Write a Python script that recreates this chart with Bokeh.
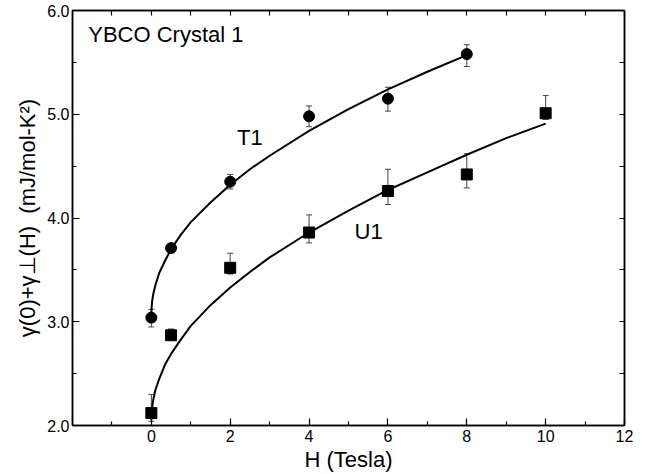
from bokeh.plotting import figure
from bokeh.models import (ColumnDataSource, Whisker, TeeHead, FixedTicker, LinearAxis,
                          Label, Range1d, NumeralTickFormatter)
from bokeh.embed import file_html
from bokeh.resources import INLINE

# ---- data ----
h_t1 = [0, 0.5, 2, 4, 6, 8]
g_t1 = [3.04, 3.71, 4.35, 4.98, 5.15, 5.58]
lo_t1 = [2.95, 3.68, 4.28, 4.88, 5.03, 5.46]
hi_t1 = [3.12, 3.74, 4.42, 5.08, 5.26, 5.67]

h_u1 = [0, 0.5, 2, 4, 6, 8, 10]
g_u1 = [2.12, 2.87, 3.52, 3.86, 4.26, 4.42, 5.01]
lo_u1 = [2.04, 2.83, 3.46, 3.76, 4.13, 4.29, 4.95]
hi_u1 = [2.30, 2.93, 3.66, 4.03, 4.47, 4.62, 5.18]

fit_h_t1 = [0, 0.005, 0.02, 0.05, 0.1, 0.2, 0.35, 0.5, 0.75, 1, 1.5, 2, 2.5, 3, 4, 5, 6, 7, 8]
fit_t1 = [3.07, 3.13, 3.20, 3.27, 3.35, 3.47, 3.59, 3.70, 3.84, 3.96, 4.15, 4.32, 4.47, 4.60,
          4.84, 5.05, 5.24, 5.41, 5.57]
fit_h_u1 = [0, 0.005, 0.02, 0.05, 0.1, 0.2, 0.35, 0.5, 0.75, 1, 1.5, 2, 2.5, 3, 4, 5, 6, 7, 8, 9, 10]
fit_u1 = [2.05, 2.11, 2.18, 2.25, 2.34, 2.45, 2.59, 2.69, 2.83, 2.96, 3.16, 3.33, 3.48, 3.62,
          3.86, 4.07, 4.27, 4.44, 4.61, 4.77, 4.91]

x_ticks = [0, 2, 4, 6, 8, 10, 12]
x_minor = [-1, 1, 3, 5, 7, 9, 11]
y_ticks = [2, 3, 4, 5, 6]
y_minor = [2.5, 3.5, 4.5, 5.5]

x_title = "H (Tesla)"
y_title = "γ(0)+γ⊥(H)\u00a0\u00a0(mJ/mol-K²)"
series_labels = ["T1", "U1"]
panel_title = "YBCO Crystal 1"

FONT = "Liberation Sans"

p = figure(width=652, height=474, x_range=Range1d(-2, 12), y_range=Range1d(2, 6),
           output_backend="svg", toolbar_location=None,
           min_border_left=72, min_border_right=28, min_border_top=10, min_border_bottom=49,
           x_axis_location=None, y_axis_location=None)
p.grid.visible = False
p.background_fill_color = "white"
p.border_fill_color = "white"
p.outline_line_color = "black"
p.outline_line_width = 1.5


def base_axis(ax):
    ax.axis_line_color = "black"
    ax.axis_line_width = 1.5
    ax.major_tick_in = 7
    ax.major_tick_out = 0
    ax.minor_tick_in = 4
    ax.minor_tick_out = 0
    ax.major_tick_line_width = 1.2
    ax.minor_tick_line_width = 1.2
    ax.major_tick_line_color = "black"
    ax.minor_tick_line_color = "black"
    ax.major_label_text_font = FONT
    ax.major_label_text_font_size = "16px"
    ax.major_label_text_color = "black"
    ax.axis_label_text_font = FONT
    ax.axis_label_text_font_style = "normal"
    ax.axis_label_text_color = "black"


xb = LinearAxis(ticker=FixedTicker(ticks=x_ticks, minor_ticks=x_minor))
base_axis(xb)
xb.major_label_standoff = 4
xb.axis_label = x_title
xb.axis_label_text_font_size = "22px"
xb.axis_label_standoff = 2
p.add_layout(xb, "below")

yl = LinearAxis(ticker=FixedTicker(ticks=y_ticks, minor_ticks=y_minor))
base_axis(yl)
yl.formatter = NumeralTickFormatter(format="0.0")
yl.major_label_standoff = 3
yl.axis_label = y_title
yl.axis_label_text_font_size = "22px"
yl.axis_label_standoff = 4
p.add_layout(yl, "left")

# top and right frame edges: tick marks only (no labels)
xt = LinearAxis(ticker=FixedTicker(ticks=[], minor_ticks=x_ticks + x_minor))
base_axis(xt)
xt.minor_tick_in = 5
p.add_layout(xt, "above")

yr = LinearAxis(ticker=FixedTicker(ticks=[], minor_ticks=y_ticks + y_minor))
base_axis(yr)
yr.minor_tick_in = 5
p.add_layout(yr, "right")

# fitted curves
p.line(fit_h_t1, fit_t1, line_color="black", line_width=2)
p.line(fit_h_u1, fit_u1, line_color="black", line_width=2)

# error bars
src_t1 = ColumnDataSource(dict(x=h_t1, y=g_t1, lo=lo_t1, hi=hi_t1))
src_u1 = ColumnDataSource(dict(x=h_u1, y=g_u1, lo=lo_u1, hi=hi_u1))
for src in (src_t1, src_u1):
    w = Whisker(base="x", lower="lo", upper="hi", source=src,
                line_color="#444444", line_width=1,
                upper_head=TeeHead(size=6, line_color="#444444", line_width=1),
                lower_head=TeeHead(size=6, line_color="#444444", line_width=1))
    p.add_layout(w)

p.scatter("x", "y", source=src_t1, marker="circle", size=11, fill_color="black", line_color="black")
p.scatter("x", "y", source=src_u1, marker="square", size=11, fill_color="black", line_color="black")

# text labels
p.add_layout(Label(x=2.5, y=4.78, text=series_labels[0], text_align="center", text_baseline="middle",
                   text_font=FONT, text_font_size="22px", text_color="black"))
p.add_layout(Label(x=5.51, y=3.87, text=series_labels[1], text_align="center", text_baseline="middle",
                   text_font=FONT, text_font_size="22px", text_color="black"))
p.add_layout(Label(x=-1.6, y=5.77, text=panel_title, text_align="left", text_baseline="middle",
                   text_font=FONT, text_font_size="22px", text_color="black"))

open("out.html", "w").write(file_html(p, INLINE))
